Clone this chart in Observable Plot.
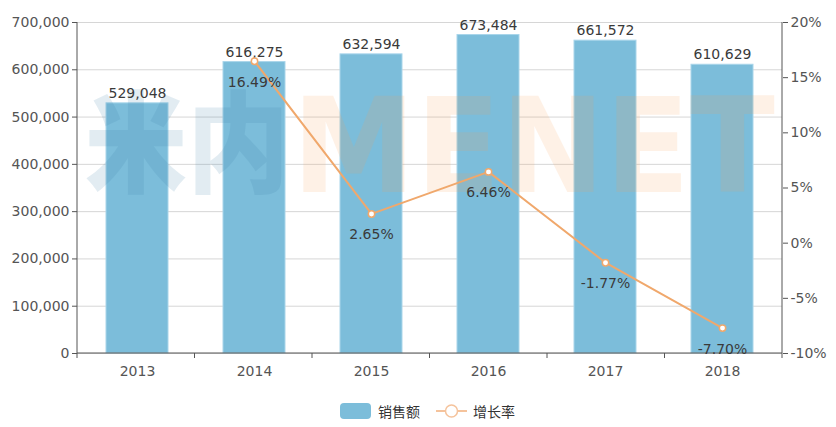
<!DOCTYPE html>
<html><head><meta charset="utf-8">
<script src="https://cdn.jsdelivr.net/npm/d3@7"></script>
<script src="https://cdn.jsdelivr.net/npm/@observablehq/plot@0.6"></script>
<style>
body{margin:0;background:#fff;font-family:"Noto Sans CJK SC","Open Sans",sans-serif;}
#chart svg{display:block;}
#legend{height:47px;position:relative;font-size:14px;color:#333;}
#legend .item{position:absolute;top:22px;display:flex;align-items:center;height:18px;}
</style></head><body>
<div id="chart"></div>
<div id="legend">
  <div class="item" style="left:340px"><span style="display:inline-block;width:31px;height:16px;border-radius:4px;background:#7cbdda;margin-right:7px"></span>销售额</div>
  <div class="item" style="left:436px"><svg width="31" height="16" style="margin-right:6px"><line x1="0" y1="8" x2="31" y2="8" stroke="#f5c39c" stroke-width="2"/><circle cx="15.5" cy="8" r="6" fill="#fff" stroke="#f5c39c" stroke-width="1.5"/></svg>增长率</div>
</div>
<script>
const years = ["2013","2014","2015","2016","2017","2018"];
const sales = [529048, 616275, 632594, 673484, 661572, 610629];
const growth = [null, 16.49, 2.65, 6.46, -1.77, -7.70];
const leftTicks = [0,100000,200000,300000,400000,500000,600000,700000];
const rightTicks = [-10,-5,0,5,10,15,20];

const yMax = 700000, rMin = -10, rMax = 20;
const toLeft = p => (p - rMin) / (rMax - rMin) * yMax;
const fromLeft = v => v / yMax * (rMax - rMin) + rMin;

const data = years.map((y, i) => ({year: y, sales: sales[i], growth: growth[i]}));
const gData = data.filter(d => d.growth !== null);
const fmt = d3.format(",");
const axisColor = "#555";
const numFont = "'DejaVu Sans',sans-serif";

function frameLines(index, scales, values, dim) {
  const g = d3.create("svg:g");
  const {width, height, marginLeft, marginRight, marginTop, marginBottom} = dim;
  const x0 = marginLeft, x1 = width - marginRight, y0 = marginTop, y1 = height - marginBottom;
  const step = (x1 - x0) / years.length;
  g.append("line").attr("x1", x0).attr("x2", x0).attr("y1", y0).attr("y2", y1).attr("stroke", axisColor);
  g.append("line").attr("x1", x1).attr("x2", x1).attr("y1", y0).attr("y2", y1).attr("stroke", axisColor);
  g.append("line").attr("x1", x0).attr("x2", x1).attr("y1", y1).attr("y2", y1).attr("stroke", axisColor);
  for (let i = 0; i <= years.length; i++) {
    const x = x0 + i * step;
    g.append("line").attr("x1", x).attr("x2", x).attr("y1", y1).attr("y2", y1 + 5).attr("stroke", axisColor);
  }
  return g.node();
}

function watermark(index, scales, values, dim) {
  const g = d3.create("svg:g").attr("pointer-events", "none").attr("text-anchor", "start");
  const {width, height, marginLeft, marginRight, marginTop, marginBottom} = dim;
  const x0 = marginLeft, x1 = width - marginRight;
  const cy = marginTop + (height - marginTop - marginBottom) * 0.37;
  const w = x1 - x0;
  g.append("text").text("米内")
    .attr("x", x0 + w * 0.011).attr("y", cy).attr("dy", "0.36em").attr("text-anchor", "start")
    .attr("font-family", "'Noto Sans CJK SC'").attr("font-weight", 900).attr("font-size", 110)
    .attr("textLength", w * 0.29).attr("lengthAdjust", "spacingAndGlyphs")
    .attr("fill", "#3d7fa8").attr("fill-opacity", 0.15);
  g.append("text").text("MENET")
    .attr("x", x0 + w * 0.305).attr("y", cy).attr("dy", "0.36em").attr("text-anchor", "start")
    .attr("font-family", "'DejaVu Sans'").attr("font-weight", "bold").attr("font-size", 132)
    .attr("textLength", w * 0.685).attr("lengthAdjust", "spacingAndGlyphs")
    .attr("fill", "#f5a35a").attr("fill-opacity", 0.15);
  return g.node();
}

const chart = Plot.plot({
  width: 836,
  height: 380,
  marginTop: 22,
  marginBottom: 27,
  marginLeft: 77,
  marginRight: 54,
  style: {fontFamily: numFont, fontSize: "14px", color: "#555", background: "#fff"},
  x: {domain: years, paddingInner: 0.47, paddingOuter: 0.235, axis: null},
  y: {domain: [0, yMax], axis: null},
  marks: [
    Plot.gridY(leftTicks, {stroke: "#d6d6d6", strokeOpacity: 1}),
    Plot.barY(data, {x: "year", y: "sales", fill: "#7cbdda", stroke: "#a9d5ea", strokeWidth: 1}),
    watermark,
    frameLines,
    Plot.axisY(leftTicks, {anchor: "left", tickSize: 5, tickPadding: 3, tickFormat: fmt, label: null, stroke: axisColor, fill: "#555", fontSize: 14, fontFamily: numFont}),
    Plot.axisY(rightTicks.map(toLeft), {anchor: "right", tickSize: 5, tickPadding: 3, tickFormat: v => Math.round(fromLeft(v)) + "%", label: null, stroke: axisColor, fill: "#555", fontSize: 14, fontFamily: numFont}),
    Plot.axisX(years, {anchor: "bottom", tickSize: 0, tickPadding: 13, label: null, fill: "#555", fontSize: 14, fontFamily: numFont}),
    Plot.text(data, {x: "year", y: "sales", text: d => fmt(d.sales), dy: -10, fill: "#3a3a3a", fontSize: 14, fontFamily: numFont}),
    Plot.line(gData, {x: "year", y: d => toLeft(d.growth), stroke: "#f0a86c", strokeWidth: 2}),
    Plot.dot(gData, {x: "year", y: d => toLeft(d.growth), r: 3.2, fill: "#fff", stroke: "#f0a86c", strokeWidth: 1.5}),
    Plot.text(gData, {x: "year", y: d => toLeft(d.growth), text: d => d.growth.toFixed(2) + "%", dy: 21, fill: "#3a3a3a", fontSize: 14, fontFamily: numFont})
  ]
});
document.getElementById("chart").appendChild(chart);
</script>
</body></html>
